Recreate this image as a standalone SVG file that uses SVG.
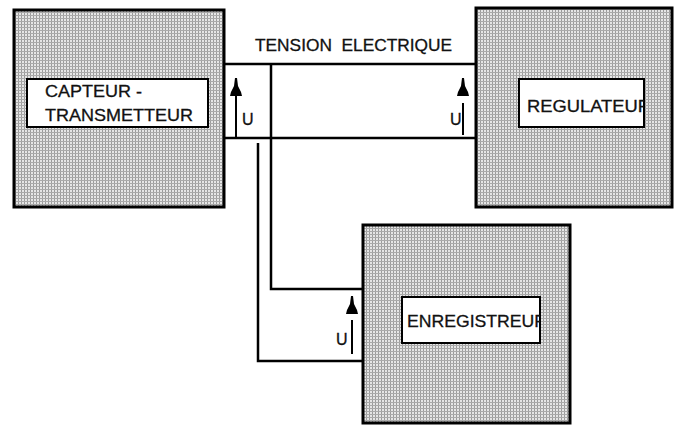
<svg xmlns="http://www.w3.org/2000/svg" width="675" height="426" viewBox="0 0 675 426">
<style>
.box{fill:url(#hatch);stroke:#000;stroke-width:3}
.lbl{fill:#fff;stroke:#000;stroke-width:2}
.t{font-family:"Liberation Sans",Arial,sans-serif;font-size:17px;fill:#111;stroke:#111;stroke-width:0.3}
.u{font-family:"Liberation Sans",Arial,sans-serif;font-size:16px;fill:#111;stroke:#111;stroke-width:0.3}
.w{fill:none;stroke:#000;stroke-width:2.5}
.s{fill:none;stroke:#000;stroke-width:2}
</style>
<defs>
<pattern id="hatch" width="3" height="3" patternUnits="userSpaceOnUse">
<rect width="3" height="3" fill="#e6e6e6"/>
<rect width="1" height="3" fill="#9c9c9c"/>
<rect width="3" height="1" fill="#aaaaaa"/>
</pattern>
<path id="head" d="M-1,0 L1,0 L2,8 L5,14 L6,18 L-6,18 L-5,14 L-2,8 Z" fill="#000"/>
<clipPath id="cR"><rect x="519" y="79" width="125" height="48"/></clipPath>
<clipPath id="cE"><rect x="402" y="297" width="138" height="46"/></clipPath>
</defs>
<rect width="675" height="426" fill="#fff"/>
<g id="connectors">
<path class="w" d="M224,64 H476 M224,138 H476"/>
<path class="w" d="M271,64 V289 H363"/>
<path class="w" d="M258,143 V361 H363"/>
<use href="#head" x="236" y="78"/>
<path class="s" d="M236,96 V138"/>
<text class="u" x="242" y="125">U</text>
<use href="#head" x="463" y="78"/>
<path class="s" d="M463,103 V135"/>
<text class="u" x="450" y="125">U</text>
<use href="#head" x="352" y="296"/>
<path class="s" d="M352,320 V354"/>
<text class="u" x="336" y="345">U</text>
<text class="t" x="255" y="51" xml:space="preserve" textLength="197" lengthAdjust="spacingAndGlyphs">TENSION  ELECTRIQUE</text>
</g>
<g id="capteur">
<rect class="box" x="14" y="10" width="210" height="197"/>
<rect class="lbl" x="27" y="79" width="181" height="48"/>
<text class="t" x="45" y="97" textLength="97" lengthAdjust="spacingAndGlyphs">CAPTEUR -</text>
<text class="t" x="45" y="121" textLength="148" lengthAdjust="spacingAndGlyphs">TRANSMETTEUR</text>
</g>
<g id="regulateur">
<rect class="box" x="476" y="8" width="196" height="199"/>
<rect class="lbl" x="519" y="79" width="125" height="48"/>
<text class="t" x="527" y="112" textLength="124" lengthAdjust="spacingAndGlyphs" clip-path="url(#cR)">REGULATEUR</text>
</g>
<g id="enregistreur">
<rect class="box" x="363" y="225" width="207" height="198"/>
<rect class="lbl" x="402" y="297" width="138" height="46"/>
<text class="t" x="407" y="327" textLength="140" lengthAdjust="spacingAndGlyphs" clip-path="url(#cE)">ENREGISTREUR</text>
</g>
</svg>
